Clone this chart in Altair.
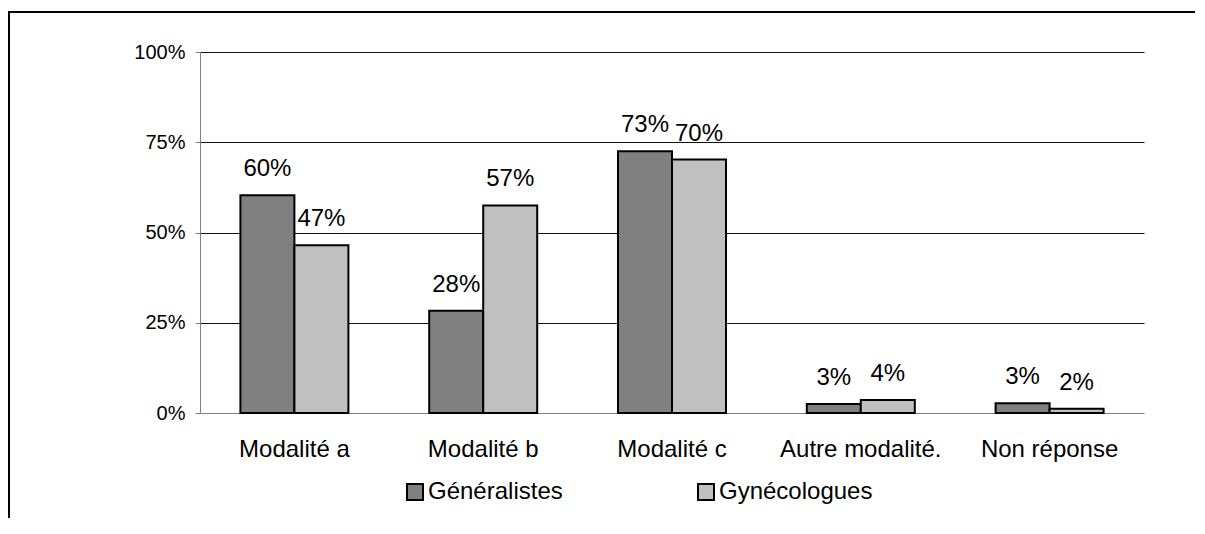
import altair as alt
import pandas as pd

categories = ["Modalité a", "Modalité b", "Modalité c", "Autre modalité.", "Non réponse"]
series = ["Généralistes", "Gynécologues"]
gen_values = [0.603, 0.283, 0.725, 0.025, 0.027]
gyn_values = [0.465, 0.575, 0.702, 0.036, 0.012]
gen_labels = ["60%", "28%", "73%", "3%", "3%"]
gyn_labels = ["47%", "57%", "70%", "4%", "2%"]
y_ticks = [0, 0.25, 0.5, 0.75, 1.0]

rows = []
for i, c in enumerate(categories):
    rows.append({"cat": c, "serie": series[0], "val": gen_values[i], "lab": gen_labels[i]})
    rows.append({"cat": c, "serie": series[1], "val": gyn_values[i], "lab": gyn_labels[i]})
df = pd.DataFrame(rows)

FONT = "Liberation Sans"
W, H = 944, 361
PL, PT, PR, PB = 192, 44, 53, 105

x_enc = alt.X("cat:N", sort=categories,
              scale=alt.Scale(paddingInner=0.428, paddingOuter=0.214),
              axis=alt.Axis(title=None, labelAngle=0, labelFontSize=24, labelFont=FONT,
                            labelColor="black", ticks=False, labelPadding=24,
                            domain=False, grid=False))
xoff = alt.XOffset("serie:N", sort=series, scale=alt.Scale(paddingInner=0, paddingOuter=0))
y_enc = alt.Y("val:Q", scale=alt.Scale(domain=[0, 1]),
              axis=alt.Axis(title=None, values=y_ticks, format=".0%", labelFontSize=20,
                            labelFont=FONT, labelColor="black", tickSize=5, tickColor="#808080",
                            labelPadding=10, domainColor="#808080",
                            gridColor=alt.condition("datum.value == 0", alt.value("#808080"), alt.value("#111111")),
                            gridWidth=1))

bars = alt.Chart(df).mark_bar(stroke="black", strokeWidth=2).encode(
    x=x_enc, xOffset=xoff, y=y_enc,
    color=alt.Color("serie:N", sort=series,
                    scale=alt.Scale(domain=series, range=["#808080", "#c0c0c0"]),
                    legend=alt.Legend(title=None, orient="none", direction="horizontal", columns=2,
                                      legendX=203, legendY=428, symbolType="square", symbolSize=256,
                                      symbolStrokeColor="black", symbolStrokeWidth=2,
                                      labelFontSize=24, labelFont=FONT, labelColor="black",
                                      labelOffset=1, columnPadding=131, labelLimit=400, padding=0)),
)

labels = alt.Chart(df).mark_text(fontSize=24, font=FONT, color="black", baseline="alphabetic", dy=-19).encode(
    x=x_enc, xOffset=xoff, y=y_enc, text="lab:N",
)

border_top = alt.Chart(df).mark_rule(color="black", strokeWidth=2).encode(
    x=alt.value(-191), x2=alt.value(W + PR - 2), y=alt.value(-40), y2=alt.value(-40))
border_left = alt.Chart(df).mark_rule(color="black", strokeWidth=2).encode(
    x=alt.value(-191), x2=alt.value(-191), y=alt.value(-41), y2=alt.value(H + PB))

chart = alt.layer(border_top, border_left, bars, labels).properties(
    width=W, height=H,
    background="white",
    autosize=alt.AutoSizeParams(type="none"),
    padding={"left": PL, "top": PT, "right": PR, "bottom": PB},
).configure_view(strokeWidth=0, stroke="transparent")

chart.save("out.html", embed_options={"renderer": "svg", "actions": False})
